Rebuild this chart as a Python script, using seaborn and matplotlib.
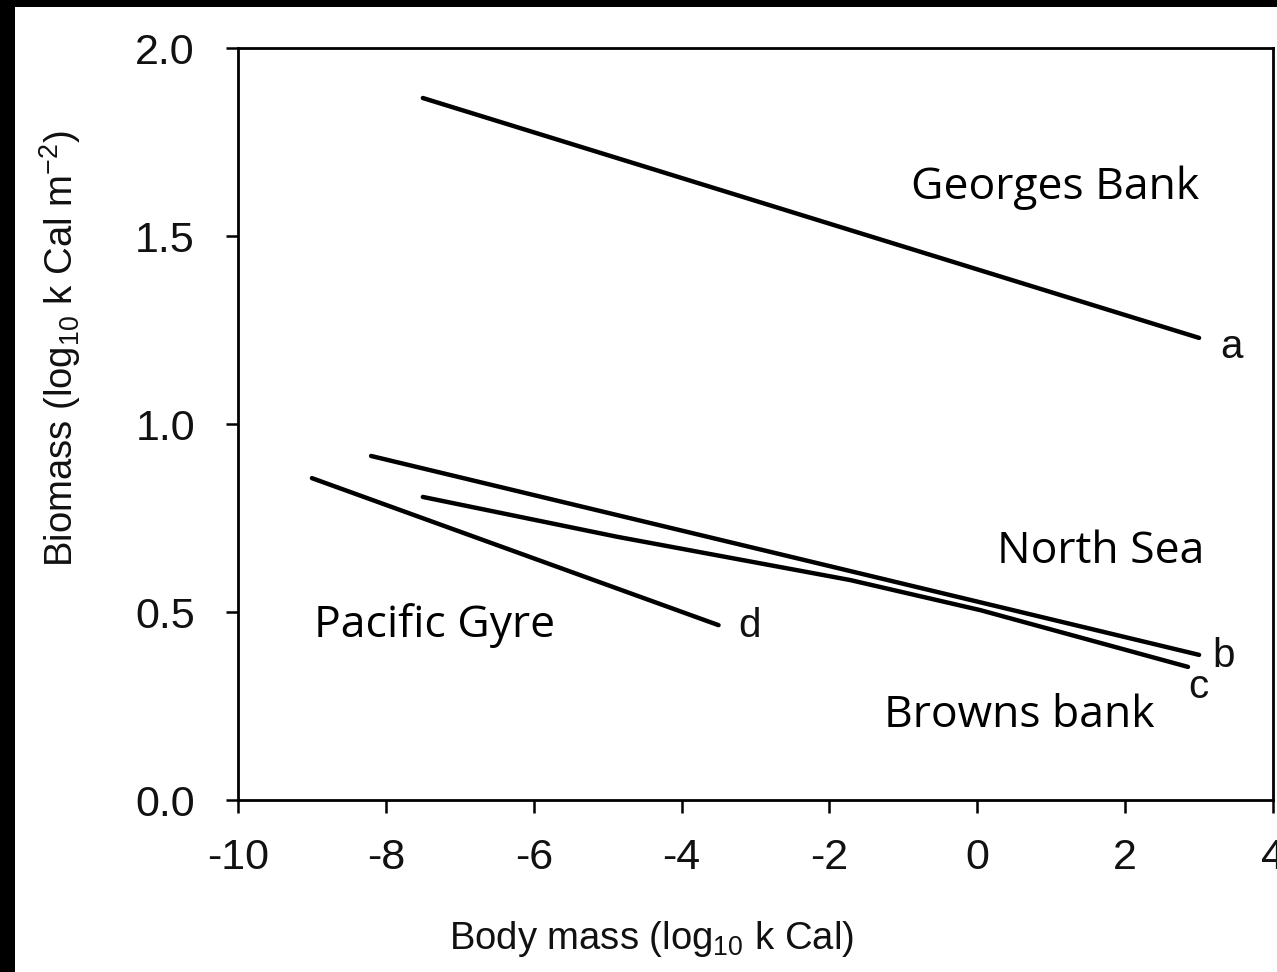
import matplotlib
matplotlib.use("Agg")
import matplotlib.pyplot as plt
from matplotlib.patches import Rectangle
import seaborn as sns
import pandas as pd

# ---- data ----
line_ids = ["a", "b", "c", "d"]
a_x = [-7.5, 3.0]
a_y = [1.867, 1.229]
b_x = [-8.2, 3.0]
b_y = [0.915, 0.386]
c_x = [-7.5, -4.87, -1.72, 0.04, 2.85]
c_y = [0.806, 0.70, 0.585, 0.505, 0.354]
d_x = [-9.0, -3.5]
d_y = [0.856, 0.465]

region_names = ["Georges Bank", "North Sea", "Pacific Gyre", "Browns bank"]
x_ticks = [-10, -8, -6, -4, -2, 0, 2, 4]
y_ticks = [0.0, 0.5, 1.0, 1.5, 2.0]

frames = []
for lid, xs, ys in zip(line_ids, [a_x, b_x, c_x, d_x], [a_y, b_y, c_y, d_y]):
    frames.append(pd.DataFrame({"mass": xs, "biomass": ys, "line": lid}))
df = pd.concat(frames, ignore_index=True)

sns.set_theme(style="white")
plt.rcParams["font.family"] = ["Liberation Sans", "DejaVu Sans"]
plt.rcParams["mathtext.default"] = "regular"

fig = plt.figure(figsize=(12.77, 9.72), dpi=100)
ax = fig.add_axes([238 / 1277, 1 - 800 / 972, (1273 - 238) / 1277, (800 - 48) / 972])

sns.lineplot(data=df, x="mass", y="biomass", hue="line", units="line",
             estimator=None, sort=False, palette=["black"] * 4,
             linewidth=3.2, legend=False, ax=ax)

ax.set_xlim(-10, 4)
ax.set_ylim(0, 2)
ax.set_xticks(x_ticks)
ax.set_xticklabels([str(t) for t in x_ticks])
ax.set_yticks(y_ticks)
ax.set_yticklabels([f"{t:.1f}" for t in y_ticks])
ax.tick_params(axis="both", direction="out", length=9, width=1.8,
               color="black", labelsize=31, labelcolor="#111111",
               bottom=True, left=True)
ax.tick_params(axis="y", pad=22)
ax.tick_params(axis="x", pad=18)
for s in ax.spines.values():
    s.set_color("black")
    s.set_linewidth(2.0)
    s.set_visible(True)

ax.set_xlabel("Body mass (log$_{10}$ k Cal)", fontsize=27.5, color="#111111")
ax.set_ylabel("Biomass (log$_{10}$ k Cal m$^{-2}$)", fontsize=27.5, color="#111111")
ax.xaxis.set_label_coords((651 - 238) / 1035, -(919 - 800) / 752)
ax.yaxis.set_label_coords(-(238 - 83) / 1035, (800 - 349) / 752)

def px2data(px, py):
    return -10 + (px - 238) / 73.93, (800 - py) / 376.0

label_font = ["Open Sans", "DejaVu Sans"]
region_pos = [(1055, 199), (1101, 563), (435, 637), (1019, 727)]
for name, (px, py) in zip(region_names, region_pos):
    x, y = px2data(px, py)
    ax.text(x, y, name, ha="center", va="baseline", fontsize=32,
            family=label_font, color="black")

letter_pos = [(1232, 358), (1224, 667), (1198, 698), (750, 637)]
for lid, (px, py) in zip(line_ids, letter_pos):
    x, y = px2data(px, py)
    ax.text(x, y, lid, ha="center", va="baseline", fontsize=29,
            color="#111111", clip_on=False)

# black frame bands at top and left of the picture
fig.patches.append(Rectangle((0, 0), 15 / 1277, 1, transform=fig.transFigure,
                             facecolor="black", edgecolor="none", zorder=10))
fig.patches.append(Rectangle((0, 1 - 7 / 972), 1, 7 / 972, transform=fig.transFigure,
                             facecolor="black", edgecolor="none", zorder=10))

fig.savefig("out.png", dpi=100)
